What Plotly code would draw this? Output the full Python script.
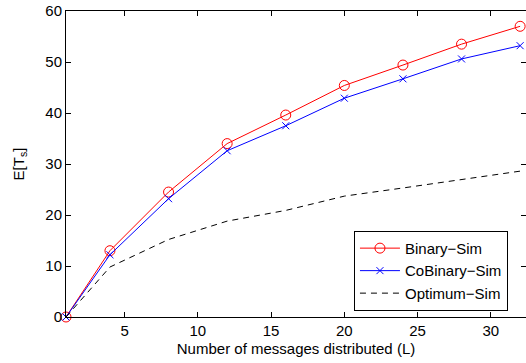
import plotly.graph_objects as go

L = [1, 4, 8, 12, 16, 20, 24, 28, 32]
binary_sim = [0, 13.0, 24.5, 34.0, 39.6, 45.4, 49.4, 53.5, 57.0]
cobinary_sim = [0, 12.2, 23.2, 32.6, 37.5, 42.9, 46.7, 50.6, 53.2]
optimum_sim = [0, 9.8, 15.2, 18.8, 20.9, 23.7, 25.3, 26.9, 28.6]

x_ticks = [5, 10, 15, 20, 25, 30]
y_ticks = [0, 10, 20, 30, 40, 50, 60]

FONT = "Liberation Sans, Arial, Helvetica, sans-serif"
FS = 15

fig = go.Figure()
fig.add_trace(go.Scatter(
    x=L, y=binary_sim, name="Binary\u2212Sim", mode="lines+markers",
    line=dict(color="#ff0000", width=1),
    marker=dict(symbol="circle-open", size=10, color="#ff0000", line=dict(width=1)),
    cliponaxis=False))
fig.add_trace(go.Scatter(
    x=L, y=cobinary_sim, name="CoBinary\u2212Sim", mode="lines+markers",
    line=dict(color="#0000ff", width=1),
    marker=dict(symbol="x-thin-open", size=7, color="#0000ff", line=dict(width=1, color="#0000ff")),
    cliponaxis=False))
fig.add_trace(go.Scatter(
    x=L, y=optimum_sim, name="Optimum\u2212Sim", mode="lines",
    line=dict(color="#000000", width=1, dash="6px,5px"),
    cliponaxis=False))

axis_common = dict(
    showgrid=False, zeroline=False, showline=True, linecolor="black", linewidth=1,
    mirror="ticks", ticks="inside", ticklen=5, tickcolor="black",
    tickfont=dict(family=FONT, size=FS, color="black"),
)

fig.update_layout(
    width=526, height=363,
    margin=dict(l=66, r=0, t=11, b=46),
    paper_bgcolor="white", plot_bgcolor="white",
    font=dict(family=FONT, size=FS, color="black"),
    xaxis=dict(range=[1, 32.4], tickvals=x_ticks, ticktext=[str(v) for v in x_ticks],
               title=dict(text="Number of messages distributed (L)", standoff=5,
                          font=dict(family=FONT, size=FS, color="black")),
               **axis_common),
    yaxis=dict(range=[0, 60], tickvals=y_ticks, ticktext=[str(v) for v in y_ticks],
               title=dict(text="E[T<sub>s</sub>]", standoff=17,
                          font=dict(family=FONT, size=FS, color="black")),
               **axis_common),
    legend=dict(x=0.626, y=0.02, xanchor="left", yanchor="bottom",
                bgcolor="white", bordercolor="black", borderwidth=1,
                font=dict(family=FONT, size=FS, color="black"),
                tracegroupgap=0, itemwidth=40),
    showlegend=True,
)

fig.write_html("out.html")
